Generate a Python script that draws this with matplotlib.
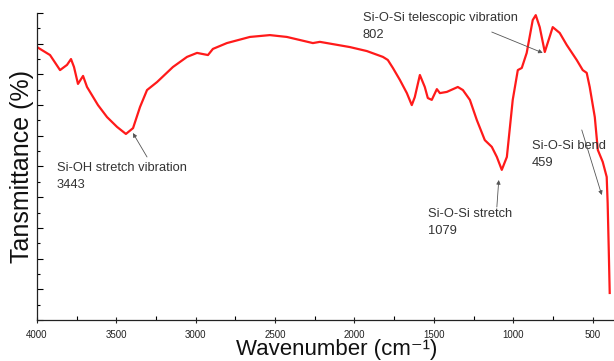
"""FTIR transmittance spectrum with band assignments."""

import matplotlib

matplotlib.use("Agg")

import matplotlib.pyplot as plt
from matplotlib.ticker import MultipleLocator

plt.rcParams["font.family"] = ["Liberation Sans", "DejaVu Sans"]

# spectrum (wavenumber in cm-1, transmittance in %)
wavenumber = [
    4000, 3918, 3855, 3811, 3786, 3767, 3742, 3710, 3685, 3616,
    3559, 3496, 3440, 3395, 3351, 3307, 3244, 3144, 3055, 2992,
    2923, 2892, 2804, 2659, 2533, 2426, 2262, 2218, 2029, 1922,
    1821, 1790, 1758, 1714, 1670, 1639, 1620, 1588, 1557, 1538,
    1513, 1481, 1462, 1418, 1349, 1317, 1273, 1229, 1179, 1135,
    1103, 1072, 1040, 1003, 971, 946, 915, 877, 858, 833,
    801, 751, 707, 663, 600, 562, 537, 518, 486, 467,
    436, 411, 405, 398, 392,
]
transmittance = [
    88.9, 86.3, 81.4, 83.1, 85.0, 82.4, 76.9, 79.5, 75.9, 70.0,
    66.1, 62.9, 60.6, 62.5, 69.4, 74.9, 77.5, 82.4, 85.7, 87.0,
    86.3, 88.3, 90.2, 92.2, 92.8, 92.2, 90.2, 90.6, 88.9, 87.6,
    85.7, 84.7, 82.1, 78.2, 73.9, 70.0, 72.6, 79.8, 75.9, 72.3,
    71.7, 75.2, 73.9, 74.3, 75.9, 74.9, 71.7, 65.1, 58.6, 56.4,
    53.1, 48.9, 53.1, 71.7, 81.4, 82.1, 87.0, 97.7, 99.3, 95.4,
    87.3, 95.4, 93.5, 89.6, 84.7, 81.4, 80.5, 75.9, 66.1, 55.4,
    51.5, 46.6, 38.1, 22.8, 8.8,
]

# band labels: text, text anchor, arrow tail, arrow tip
labels = [
    "Si-OH stretch vibration\n3443",
    "Si-O-Si stretch\n1079",
    "Si-O-Si bend\n459",
    "Si-O-Si telescopic vibration\n802",
]
label_xy = [(3874, 51.5), (1538, 36.5), (883, 58.6), (1947, 100.4)]
arrow_tail = [(3307, 53.1), (1103, 36.8), (568, 61.9), (1135, 93.8)]
arrow_tip = [(3396, 60.9), (1091, 45.6), (442, 40.7), (814, 87.0)]

fig = plt.figure(figsize=(6.14, 3.61), dpi=100)
ax = fig.add_axes([0.0603, 0.1136, 0.9397, 0.8504])

ax.plot(wavenumber, transmittance, color="#ff1a1a", lw=1.6)

for text, pos, tail, tip in zip(labels, label_xy, arrow_tail, arrow_tip):
    ax.text(pos[0], pos[1], text, fontsize=9.3, color="#333333",
            ha="left", va="top", linespacing=1.6)
    ax.annotate("", xy=tip, xytext=tail,
                arrowprops=dict(arrowstyle="-|>", color="#555555", lw=0.6,
                                mutation_scale=6, shrinkA=0, shrinkB=0))

ax.set_xlim(4000, 365)
ax.set_ylim(0, 100)
ax.xaxis.set_major_locator(MultipleLocator(500))
ax.xaxis.set_minor_locator(MultipleLocator(250))
ax.yaxis.set_major_locator(MultipleLocator(10))
ax.yaxis.set_minor_locator(MultipleLocator(5))
ax.set_yticklabels([])

ax.spines["top"].set_visible(False)
ax.spines["right"].set_visible(False)
for side in ("left", "bottom"):
    ax.spines[side].set_linewidth(0.9)
    ax.spines[side].set_color("#222222")

ax.tick_params(axis="x", which="major", direction="inout", length=5,
               width=0.8, labelsize=7, pad=5, colors="#222222")
ax.tick_params(axis="x", which="minor", direction="in", length=3, width=0.8)
ax.tick_params(axis="y", which="major", direction="in", length=4, width=0.8)
ax.tick_params(axis="y", which="minor", direction="in", length=2.5, width=0.8)

ax.set_xlabel("Wavenumber (cm\u207b\u00b9)", fontsize=16,
              color="#111111", va="baseline")
ax.xaxis.set_label_coords(0.519, -0.1140)
ax.set_ylabel("Tansmittance (%)", fontsize=18, color="#111111")
ax.yaxis.set_label_coords(-0.005, 0.5)

fig.savefig("out.png", dpi=100)
plt.close(fig)
